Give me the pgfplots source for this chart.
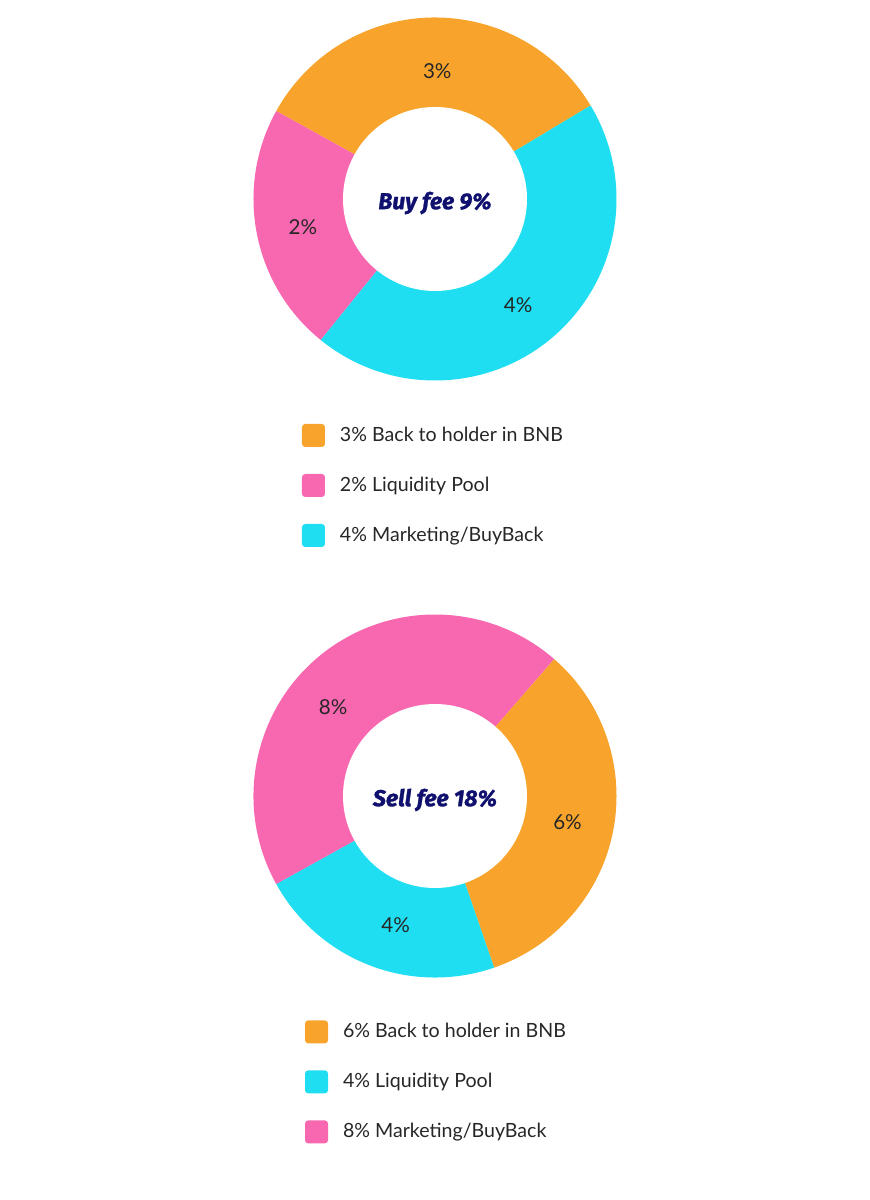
\documentclass[border=0pt]{standalone}
\usepackage{pgfplots}
\usepackage{pgfplotstable}
\pgfplotsset{compat=1.18}
\usepackage{fontspec}
\setmainfont{Lato}
\newfontfamily\titfam{Fira Sans}[BoldItalicFeatures={FakeBold=1.2}]
\definecolor{cOrange}{HTML}{F8A42C}
\definecolor{cPink}{HTML}{F868B0}
\definecolor{cCyan}{HTML}{1FDEF2}
\definecolor{cNavy}{HTML}{10106E}
\definecolor{cText}{HTML}{262626}
\newcommand\labfont{\fontsize{10.3}{12}\selectfont}
\newcommand\legfont{\fontsize{9.8}{11}\selectfont}
\newcommand\titfont{\titfam\fontsize{11.5}{13}\selectfont\bfseries\itshape}
\def\Ro{90.75}
\def\Ri{46}
\def\Rl{67.5}

% value = share in percent, color = slice colour,
% dang = label angle offset (deg), dr = label radius offset (pt)
\pgfplotstableread{
value color dang dr
3 cOrange -2 -3.5
2 cPink 1 0
4 cCyan -3 0
}\buytable
\pgfplotstableread{
value color dang dr
6 cOrange 0 0
4 cCyan 4 0
8 cPink 10 0
}\selltable

% #1 table, #2 start angle, #3 direction (+1 ccw, -1 cw)
\newcommand\donutslices[3]{%
  \pgfplotstablegetrowsof{#1}%
  \pgfmathtruncatemacro\lastrow{\pgfplotsretval-1}%
  \xdef\tot{0}%
  \pgfplotsforeachungrouped \i in {0,...,\lastrow}{%
    \pgfplotstablegetelem{\i}{value}\of{#1}%
    \pgfmathsetmacro\tmpt{\tot+\pgfplotsretval}%
    \xdef\tot{\tmpt}%
  }%
  \xdef\curang{#2}%
  \pgfplotsforeachungrouped \i in {0,...,\lastrow}{%
    \pgfplotstablegetelem{\i}{value}\of{#1}\let\val\pgfplotsretval
    \pgfplotstablegetelem{\i}{color}\of{#1}\let\col\pgfplotsretval
    \pgfplotstablegetelem{\i}{dang}\of{#1}\let\dang\pgfplotsretval
    \pgfplotstablegetelem{\i}{dr}\of{#1}\let\dr\pgfplotsretval
    \pgfmathsetmacro\endang{\curang+#3*360*\val/\tot}%
    \pgfmathsetmacro\midang{(\curang+\endang)/2+\dang}%
    \pgfmathsetmacro\lr{\Rl+\dr}%
    \edef\tmp{%
      \noexpand\fill[\col] (axis cs:0,0) -- ++(\curang:\Ro pt)
        arc[start angle=\curang, end angle=\endang, radius=\Ro pt] -- cycle;
      \noexpand\path (axis cs:0,0) ++(\midang:\lr pt)
        node[font=\noexpand\labfont, text=cText] {\val\noexpand\%};%
    }%
    \tmp
    \xdef\curang{\endang}%
  }%
  \fill[white] (axis cs:0,0) circle[radius=\Ri pt];
}

\pgfplotsset{
  donut/.style={
    hide axis, clip=false, anchor=center,
    x=0.5pt, y=0.5pt, xmin=-200, xmax=200, ymin=-200, ymax=200,
    legend cell align=left,
    legend image code/.code={\fill[##1, rounded corners=1.6pt] (0pt,-5.75pt) rectangle (11.5pt,5.75pt);},
    legend style={draw=none, fill=none, inner sep=0pt, outer sep=0pt,
      anchor=north west, row sep=13.5pt, column sep=7.5pt,
      font=\legfont, text=cText, nodes={inner sep=0pt}},
  }
}

\begin{document}
\begin{tikzpicture}
\path[use as bounding box] (0pt,0pt) rectangle (434.5pt,600pt);

\begin{axis}[donut, at={(217.5pt,500.5pt)},
  legend style={at={(0.1675,-0.0625)}}]
  \donutslices{\buytable}{31}{1}
  \node[font=\titfont, text=cNavy, yshift=-2pt] at (axis cs:0,0) {Buy fee 9\%};
  \addlegendimage{fill=cOrange, draw=none}
  \addlegendentry{3\% Back to holder in BNB}
  \addlegendimage{fill=cPink, draw=none}
  \addlegendentry{2\% Liquidity Pool}
  \addlegendimage{fill=cCyan, draw=none}
  \addlegendentry{4\% Marketing/BuyBack}
\end{axis}

\begin{axis}[donut, at={(217.5pt,202pt)},
  legend style={at={(0.175,-0.061)}}]
  \donutslices{\selltable}{49}{-1}
  \node[font=\titfont, text=cNavy, yshift=-2pt] at (axis cs:0,0) {Sell fee 18\%};
  \addlegendimage{fill=cOrange, draw=none}
  \addlegendentry{6\% Back to holder in BNB}
  \addlegendimage{fill=cCyan, draw=none}
  \addlegendentry{4\% Liquidity Pool}
  \addlegendimage{fill=cPink, draw=none}
  \addlegendentry{8\% Marketing/BuyBack}
\end{axis}
\end{tikzpicture}
\end{document}
